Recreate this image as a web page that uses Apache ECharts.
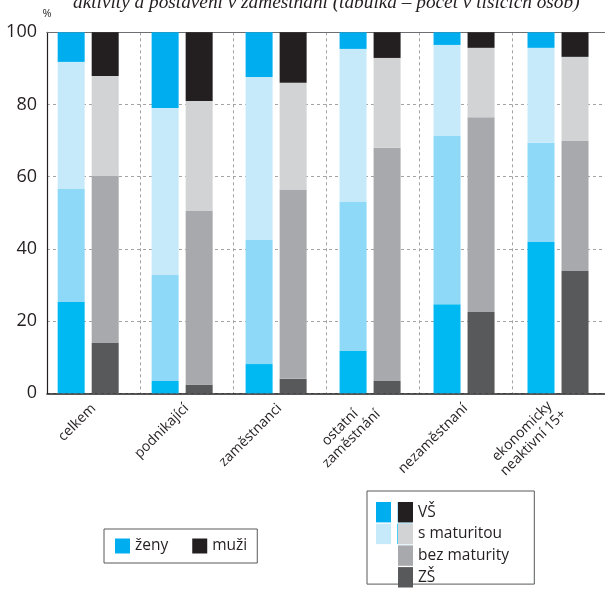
<!DOCTYPE html>
<html><head><meta charset="utf-8">
<script src="https://cdn.jsdelivr.net/npm/echarts@6/dist/echarts.min.js"></script>
<style>html,body{margin:0;padding:0;background:#fff}#c{width:605px;height:602px}</style>
</head><body><div id="c"></div>
<script>
// ---- data ----
const categories = ['celkem', 'podnikající', 'zaměstnanci', 'ostatní\nzaměstnání', 'nezaměstnaní', 'ekonomicky\nneaktivní 15+'];
const levels = ['ZŠ', 'bez maturity', 's maturitou', 'VŠ'];
const groups = ['ženy', 'muži'];
const zenyZS   = [25.3,  3.4,  8.1, 11.7, 24.7, 41.9];
const zenyBez  = [31.3, 29.4, 34.4, 41.3, 46.6, 27.5];
const zenySMat = [35.2, 46.2, 45.1, 42.4, 25.2, 26.3];
const zenyVS   = [ 8.2, 21.0, 12.4,  4.6,  3.5,  4.3];
const muziZS   = [13.9,  2.4,  4.0,  3.4, 22.5, 33.9];
const muziBez  = [46.4, 48.1, 52.3, 64.6, 54.0, 36.0];
const muziSMat = [27.6, 30.5, 29.7, 24.9, 19.2, 23.3];
const muziVS   = [12.1, 19.0, 14.0,  7.1,  4.3,  6.8];
const yTicks = [0, 20, 40, 60, 80, 100];
const titleText = 'aktivity a postavení v zaměstnání (tabulka – počet v tisících osob)';
const unitText = '%';

// ---- styles ----
const zenyColors = ['#00b9f2', '#8ed8f8', '#c7eafb', '#00aeef'];
const muziColors = ['#58595b', '#a7a9ac', '#d1d3d4', '#231f20'];
const FONT = '"Open Sans", "Noto Sans", sans-serif';
const TXT = '#231f20';
const LBL = 14;

const zenyData = [zenyZS, zenyBez, zenySMat, zenyVS];
const muziData = [muziZS, muziBez, muziSMat, muziVS];

const series = [];
levels.forEach((lv, i) => series.push({
  name: groups[0] + ' ' + lv, type: 'bar', stack: 'z', xAxisIndex: 2, yAxisIndex: 1,
  barWidth: 27, barGap: '26%', data: zenyData[i], itemStyle: { color: zenyColors[i] }
}));
levels.forEach((lv, i) => series.push({
  name: groups[1] + ' ' + lv, type: 'bar', stack: 'm', xAxisIndex: 2, yAxisIndex: 1,
  barWidth: 27, barGap: '26%', data: muziData[i], itemStyle: { color: muziColors[i] }
}));

// centre lines of multi-line labels
const mctx = document.createElement('canvas').getContext('2d');
mctx.font = LBL + 'px ' + FONT;
const rich = {};
categories.forEach((c, i) => {
  if (c.includes('\n')) {
    const w = Math.max(...c.split('\n').map(s => mctx.measureText(s).width));
    rich['c' + i] = { width: Math.ceil(w), align: 'center', fontSize: LBL, fontFamily: FONT, color: TXT, lineHeight: 16 };
  }
});

const revLevels = levels.slice().reverse();
const chart = echarts.init(document.getElementById('c'), null, { renderer: 'canvas' });
chart.setOption({
  animation: false,
  backgroundColor: '#fff',
  textStyle: { fontFamily: FONT },
  grid: [
    { left: 47, width: 561, top: 32.3, bottom: 208.7, containLabel: false },
    { left: 41.2, width: 567.6, top: 32.3, bottom: 208.7, containLabel: false }
  ],
  xAxis: [
    {
      gridIndex: 0, type: 'category', data: categories, position: 'bottom',
      axisLine: { show: true, lineStyle: { color: TXT, width: 1.5 } },
      axisTick: { show: false },
      axisLabel: {
        interval: 0, rotate: 45, margin: 13, fontSize: LBL, color: TXT, fontFamily: FONT, lineHeight: 16,
        formatter: (v, i) => v.includes('\n') ? v.split('\n').map(s => '{c' + i + '|' + s + '}').join('\n') : v,
        rich: rich
      },
      splitLine: { show: true, lineStyle: { color: '#a3a3a3', type: [3, 3], width: 1 } }
    },
    {
      gridIndex: 0, type: 'category', data: categories, position: 'top',
      axisLine: { show: true, onZero: false, lineStyle: { color: '#6d6e71', width: 1.2 } },
      axisTick: { show: false }, axisLabel: { show: false }, splitLine: { show: false }
    },
    { gridIndex: 1, type: 'category', data: categories, show: false }
  ],
  yAxis: [
    {
      gridIndex: 0, type: 'value', min: yTicks[0], max: yTicks[yTicks.length - 1], interval: yTicks[1] - yTicks[0],
      name: unitText, nameLocation: 'end', nameGap: 13,
      nameTextStyle: { fontSize: 11, color: TXT, fontFamily: FONT },
      axisLine: { show: true, lineStyle: { color: TXT, width: 1.2 } },
      axisTick: { show: false },
      axisLabel: { fontSize: 18, color: TXT, margin: 10, fontFamily: FONT },
      splitLine: { show: true, lineStyle: { color: '#a3a3a3', type: [3, 3], width: 1 } }
    },
    { gridIndex: 1, type: 'value', min: 0, max: 100, show: false }
  ],
  legend: [
    {
      data: groups.map(g => g + ' VŠ'), formatter: n => n.split(' ')[0],
      left: 104, top: 529, orient: 'horizontal', icon: 'rect',
      itemWidth: 15, itemHeight: 15, itemGap: 24, padding: [9, 10, 9, 11],
      borderColor: '#58595b', borderWidth: 1, selectedMode: false,
      textStyle: { fontSize: 15.5, color: TXT, fontFamily: FONT, lineHeight: 15 }
    },
    {
      data: revLevels.map(l => groups[0] + ' ' + l), formatter: () => '',
      left: 367, top: 491, orient: 'vertical', icon: 'rect',
      itemWidth: 15, itemHeight: 20.4, itemGap: 1.3, padding: [11, 117, 40, 9],
      borderColor: '#58595b', borderWidth: 1, selectedMode: false,
      textStyle: { fontSize: 15.5, color: TXT, fontFamily: FONT, lineHeight: 20.4 }
    },
    {
      data: revLevels.map(l => groups[1] + ' ' + l), formatter: n => n.replace(groups[1] + ' ', ''),
      left: 398, top: 502, orient: 'vertical', icon: 'rect',
      itemWidth: 15, itemHeight: 20.4, itemGap: 1.3, padding: 0, selectedMode: false,
      textStyle: { fontSize: 15.5, color: TXT, fontFamily: FONT, lineHeight: 20.4 }
    }
  ],
  graphic: [
    {
      type: 'text', left: 73, top: -7, silent: true,
      style: { text: titleText, font: 'italic 19.3px "Liberation Serif", serif', fill: TXT }
    }
  ],
  series: series
});
</script>
</body></html>
